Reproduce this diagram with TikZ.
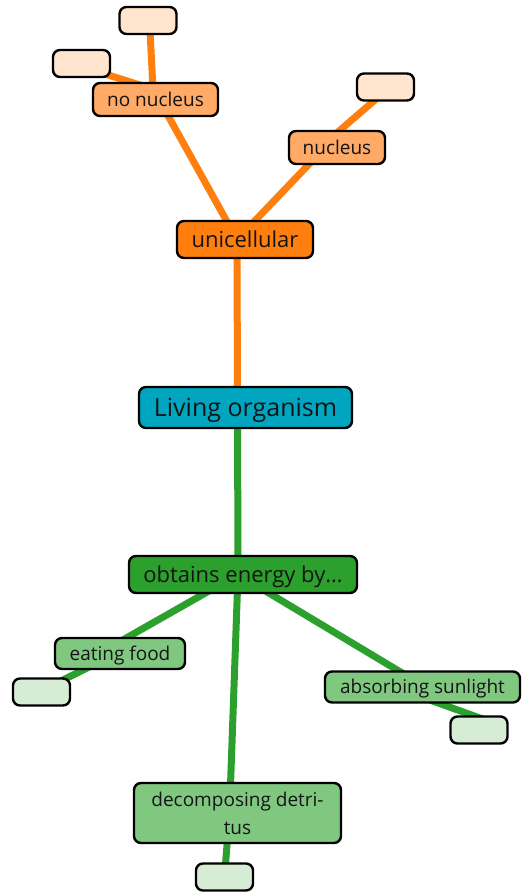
\documentclass[tikz,border=0pt]{standalone}
\usepackage{fontspec}
\setmainfont{Open Sans}
\definecolor{rootcyan}{RGB}{0,166,192}
\definecolor{mainorange}{RGB}{255,127,14}
\definecolor{midorange}{RGB}{255,170,102}
\definecolor{paleorange}{RGB}{255,228,206}
\definecolor{maingreen}{RGB}{44,160,44}
\definecolor{midgreen}{RGB}{128,200,128}
\definecolor{palegreen}{RGB}{214,236,212}
\definecolor{inktext}{RGB}{20,20,20}
\usepackage{tikz}
\usetikzlibrary{positioning,calc,backgrounds}

\begin{document}
\begin{tikzpicture}[x=1pt,y=-1pt,
    box/.style={rectangle, rounded corners=7pt, draw=black, line width=2.4pt,
                inner sep=0pt, align=center, text=inktext},
    rootbox/.style={box, fill=rootcyan, minimum width=213pt, minimum height=41pt,
                text height=18pt, text depth=1pt, font=\fontsize{25}{30}\selectfont},
    topbox/.style={box, minimum height=37pt, text height=17.6pt, text depth=0.8pt,
                font=\fontsize{22}{26}\selectfont},
    subbox/.style={box, minimum height=33pt, text height=14.3pt, text depth=0.7pt,
                font=\fontsize{19}{28}\selectfont},
    leafbox/.style={box, minimum width=57pt, minimum height=27pt},
    orangelink/.style={draw=mainorange, line width=7pt},
    greenlink/.style={draw=maingreen, line width=7pt}]
\useasboundingbox (0,0) rectangle (525,896);

\node[rootbox] (living) at (245.5,407.5) {Living organism};

\node[topbox, fill=mainorange, minimum width=136pt] (uni) at (245,239.5) {unicellular};
\node[subbox, fill=midorange, minimum width=125pt] (nonuc) at (155.5,99.5) {no nucleus};
\node[subbox, fill=midorange, minimum width=96pt] (nuc) at (337,147.5) {nucleus};
\node[leafbox, fill=paleorange] (nonuca) at (148,20.5) {};
\node[leafbox, fill=paleorange] (nonucb) at (81.5,63.5) {};
\node[leafbox, fill=paleorange] (nuca) at (385.5,87) {};

\node[topbox, fill=maingreen, minimum width=228pt] (energy) at (243,574.5) {obtains energy by\ldots};
\node[subbox, fill=midgreen, minimum width=130pt, minimum height=31pt] (eating) at (120,653.5) {eating food};
\node[subbox, fill=midgreen, minimum width=195pt, minimum height=31pt] (sunlight) at (422.5,687) {absorbing sunlight};
\node[box, fill=midgreen, minimum width=207pt, minimum height=60pt,
      font=\fontsize{19}{28}\selectfont] (detritus) at (237.5,813) {decomposing detri-\\tus};
\node[leafbox, fill=palegreen] (eatinga) at (41.5,692) {};
\node[leafbox, fill=palegreen] (sunlighta) at (479,730) {};
\node[leafbox, fill=palegreen] (detritusa) at (224.5,877) {};

\begin{pgfonlayer}{background}
\path[orangelink] ([xshift=-8pt]uni.center) -- ([xshift=-8pt]living.center);
\path[orangelink] ([xshift=-8pt]uni.center) -- ([xshift=3.5pt]nonuc.center);
\path[orangelink] ([xshift=-8pt]uni.center) -- ([xshift=-12pt]nuc.center);
\path[orangelink] ([xshift=-2pt]nonuc.center) -- ([xshift=1.5pt]nonuca.center);
\path[orangelink] ([yshift=9.5pt]nonuc.center) -- ([yshift=-3pt]nonucb.center);
\path[orangelink] ([xshift=-17pt]nuc.center) -- ([xshift=4.5pt]nuca.center);

\path[greenlink] ([xshift=-8pt]living.center) -- ([xshift=-5pt]energy.center);
\path[greenlink] ([xshift=-5pt]energy.center) -- ([xshift=-21pt]eating.center);
\path[greenlink] ([xshift=-5pt]energy.center) -- ([xshift=3pt]sunlight.center);
\path[greenlink] ([xshift=-5pt]energy.center) -- ([xshift=-8pt]detritus.center);
\path[greenlink] ([xshift=-4pt]eating.center) -- ([xshift=-2.5pt]eatinga.center);
\path[greenlink] ([xshift=-28.5pt]sunlight.center) -- ([xshift=10pt,yshift=-6pt]sunlighta.north);
\path[greenlink] ([xshift=-8pt]detritus.center) -- (detritusa.center);
\end{pgfonlayer}
\end{tikzpicture}
\end{document}
